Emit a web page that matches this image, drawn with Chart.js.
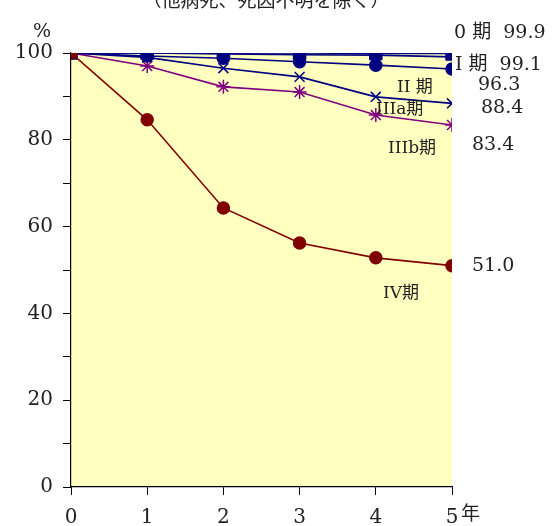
<!DOCTYPE html>
<html>
<head>
<meta charset="utf-8">
<script src="https://cdn.jsdelivr.net/npm/chart.js@4"></script>
<style>
  html, body { margin: 0; padding: 0; background: #fff; }
  #wrap { width: 560px; height: 526px; position: relative; }
</style>
</head>
<body>
<div id="wrap"><canvas id="c"></canvas></div>
<script>
var years = [0, 1, 2, 3, 4, 5];
var stage0 = [100, 100, 100, 100, 99.9, 99.9];
var stage1 = [100, 100, 99.8, 99.6, 99.5, 99.1];
var stage2 = [100, 99.3, 98.8, 98.0, 97.2, 96.3];
var stage3a = [100, 99.0, 96.5, 94.5, 89.9, 88.4];
var stage3b = [100, 97.0, 92.2, 91.0, 85.7, 83.4];
var stage4 = [100, 84.6, 64.3, 56.2, 52.8, 51.0];
var yTicks = [0, 20, 40, 60, 80, 100];

var FONT = '"DejaVu Serif", "Liberation Serif", "Noto Sans CJK JP", serif';
var NAVY = '#000080', PURPLE = '#800080', MAROON = '#800000';

function pts(arr) {
  return arr.map(function (v, i) { return { x: years[i], y: v }; });
}

function series(label, data, color, style, radius, order) {
  return {
    label: label,
    data: pts(data),
    borderColor: color,
    backgroundColor: color,
    pointBorderColor: color,
    pointBackgroundColor: color,
    pointStyle: style,
    pointRadius: radius,
    pointBorderWidth: 1.5,
    borderWidth: 1.6,
    tension: 0,
    order: order
  };
}

// background of the plot area + free text labels
var decor = {
  id: 'decor',
  beforeDraw: function (chart) {
    var a = chart.chartArea, ctx = chart.ctx;
    ctx.save();
    ctx.fillStyle = '#ffffc0';
    ctx.fillRect(a.left, a.top, a.right - a.left, a.bottom - a.top);
    ctx.restore();
  },
  afterDraw: function (chart) {
    var ctx = chart.ctx;
    ctx.save();
    ctx.fillStyle = '#222';
    ctx.textBaseline = 'middle';
    ctx.font = '19px ' + FONT;
    ctx.textAlign = 'center';
    ctx.fillText('（他病死、死因不明を除く）', 266, 2);
    ctx.fillText('%', 42, 32);
    ctx.textAlign = 'left';
    ctx.fillText('年', 461, 515);
    ctx.fillText('0 期  99.9', 454, 33);
    ctx.fillText('I 期  99.1', 455, 65);
    ctx.fillText('96.3', 478, 85);
    ctx.fillText('88.4', 481, 108);
    ctx.fillText('83.4', 472, 145);
    ctx.fillText('51.0', 472, 266);
    ctx.font = '17px ' + FONT;
    ctx.fillText('II 期', 397, 88);
    ctx.fillText('IIIa期', 376, 110);
    ctx.fillText('IIIb期', 388, 149);
    ctx.fillText('IV期', 383, 294);
    ctx.restore();
  }
};

new Chart(document.getElementById('c').getContext('2d'), {
  type: 'line',
  data: {
    datasets: [
      series('IV期', stage4, MAROON, 'circle', 6, 1),
      series('0期', stage0, NAVY, 'rect', 8.5, 2),
      series('I期', stage1, NAVY, 'triangle', 6, 3),
      series('II期', stage2, NAVY, 'circle', 6, 4),
      series('IIIa期', stage3a, NAVY, 'crossRot', 7, 5),
      series('IIIb期', stage3b, PURPLE, 'star', 7, 6)
    ]
  },
  options: {
    responsive: true,
    maintainAspectRatio: false,
    animation: false,
    layout: { padding: { left: 0, right: 108, top: 53, bottom: 0 } },
    plugins: { legend: { display: false }, tooltip: { enabled: false } },
    scales: {
      x: {
        type: 'linear',
        min: 0,
        max: 5,
        afterFit: function (s) { s.height = 39; },
        afterBuildTicks: function (s) { s.ticks = years.map(function (v) { return { value: v }; }); },
        grid: { display: true, drawOnChartArea: false, drawTicks: true, tickLength: 8, tickColor: '#000' },
        border: { color: '#000', width: 1.2 },
        ticks: { color: '#222', font: { family: FONT, size: 20 }, padding: 11, maxRotation: 0 }
      },
      y: {
        min: 0,
        max: 100,
        afterFit: function (s) { s.width = 71; },
        afterBuildTicks: function (s) {
          var t = [];
          for (var v = 0; v <= 100; v += 10) t.push({ value: v });
          s.ticks = t;
        },
        grid: { display: true, drawOnChartArea: false, drawTicks: true, tickLength: 8, tickColor: '#000' },
        border: { color: '#000', width: 1.2 },
        ticks: {
          color: '#222',
          font: { family: FONT, size: 20 },
          padding: 10,
          callback: function (v) { return yTicks.indexOf(v) >= 0 ? String(v) : ''; }
        }
      }
    }
  },
  plugins: [decor]
});
</script>
</body>
</html>
